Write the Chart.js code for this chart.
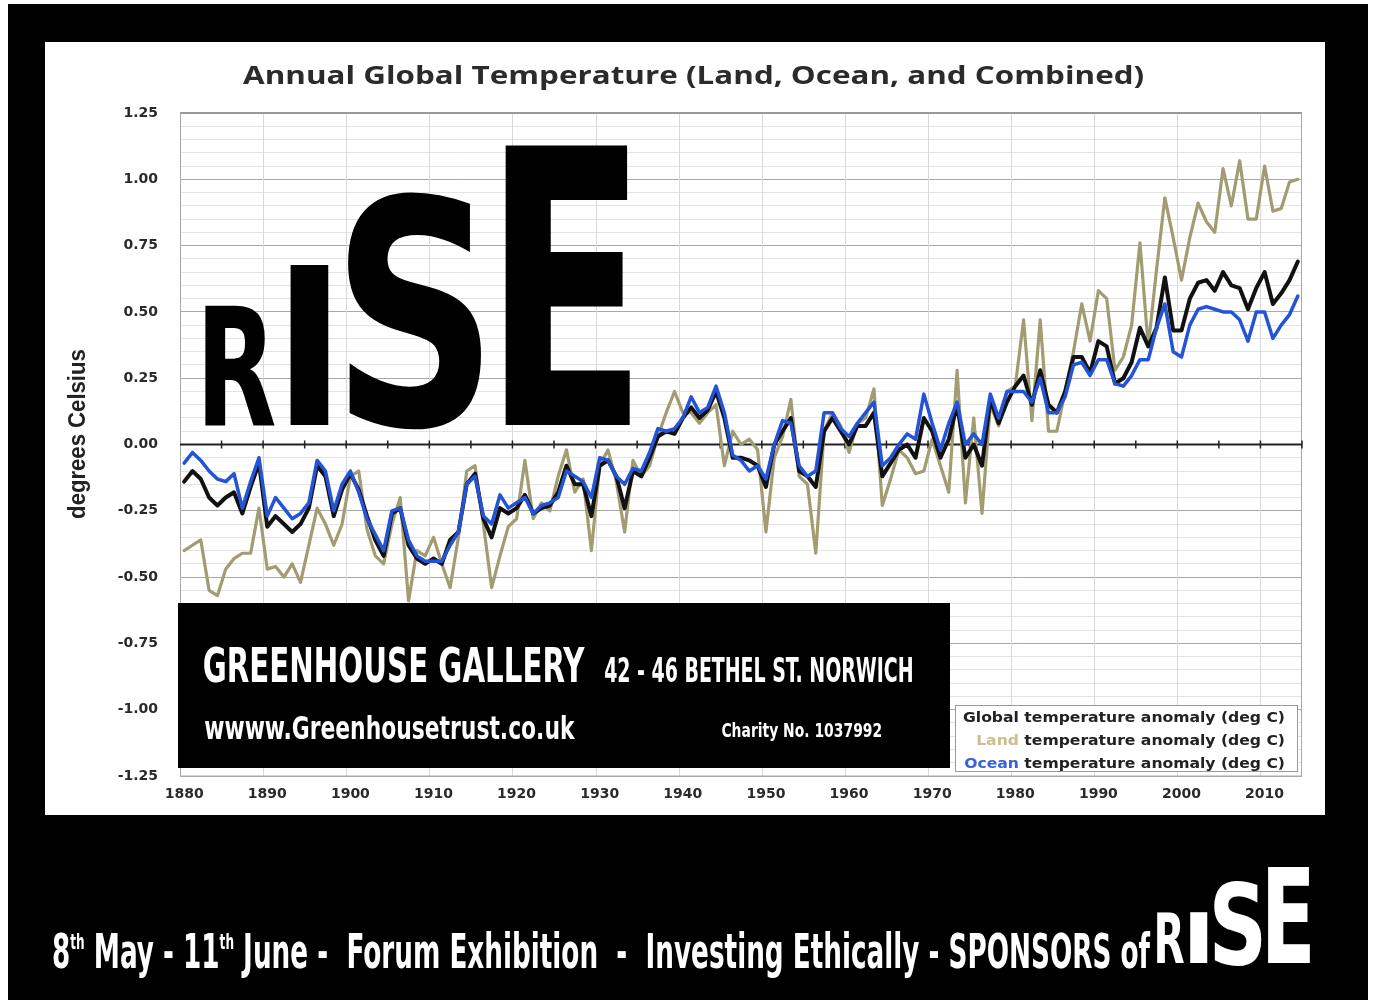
<!DOCTYPE html>
<html>
<head>
<meta charset="utf-8">
<title>Annual Global Temperature - RISE</title>
<script src="https://cdn.jsdelivr.net/npm/chart.js@4.4.1/dist/chart.umd.min.js"></script>
<style>
  html, body { margin: 0; padding: 0; background: #fff; }
  #wrap { position: relative; width: 1374px; height: 1006px; }
  canvas { display: block; }
</style>
</head>
<body>
<div id="wrap"><canvas id="chart" width="1374" height="1006"></canvas></div>
<script>
// annual anomalies, deg C, one value per year from FIRST_YEAR
const FIRST_YEAR = 1880;

const globalAnom = [
  -0.14, -0.10, -0.13, -0.20, -0.23, -0.20, -0.18, -0.26, -0.16, -0.07,
  -0.31, -0.27, -0.30, -0.33, -0.30, -0.24, -0.08, -0.12, -0.27, -0.17,
  -0.11, -0.17, -0.27, -0.36, -0.42, -0.26, -0.24, -0.38, -0.43, -0.45,
  -0.43, -0.45, -0.36, -0.33, -0.15, -0.11, -0.28, -0.35, -0.24, -0.26,
  -0.24, -0.19, -0.26, -0.24, -0.23, -0.18, -0.08, -0.15, -0.15, -0.27,
  -0.08, -0.06, -0.12, -0.24, -0.10, -0.12, -0.05, 0.03, 0.05, 0.04,
  0.10, 0.14, 0.10, 0.13, 0.20, 0.10, -0.05, -0.05, -0.06, -0.08,
  -0.16, 0.00, 0.05, 0.10, -0.10, -0.12, -0.16, 0.05, 0.10, 0.05,
  0.00, 0.07, 0.07, 0.12, -0.12, -0.07, -0.02, 0.00, -0.05, 0.10,
  0.05, -0.05, 0.02, 0.15, -0.05, 0.00, -0.08, 0.17, 0.08, 0.16,
  0.22, 0.26, 0.15, 0.28, 0.15, 0.12, 0.20, 0.33, 0.33, 0.27,
  0.39, 0.37, 0.23, 0.25, 0.31, 0.44, 0.37, 0.44, 0.63, 0.43,
  0.43, 0.55, 0.61, 0.62, 0.58, 0.65, 0.60, 0.59, 0.51, 0.59,
  0.65, 0.53, 0.57, 0.62, 0.69
];

const landAnom = [
  -0.40, -0.38, -0.36, -0.55, -0.57, -0.47, -0.43, -0.41, -0.41, -0.24,
  -0.47, -0.46, -0.50, -0.45, -0.52, -0.38, -0.24, -0.30, -0.38, -0.30,
  -0.12, -0.10, -0.32, -0.42, -0.45, -0.30, -0.20, -0.59, -0.40, -0.42,
  -0.35, -0.45, -0.54, -0.35, -0.10, -0.08, -0.30, -0.54, -0.42, -0.31,
  -0.28, -0.06, -0.28, -0.22, -0.25, -0.12, -0.02, -0.18, -0.13, -0.40,
  -0.08, -0.02, -0.14, -0.33, -0.06, -0.12, -0.08, 0.03, 0.12, 0.20,
  0.12, 0.12, 0.08, 0.12, 0.15, -0.08, 0.05, 0.00, 0.02, -0.02,
  -0.33, -0.05, 0.03, 0.17, -0.12, -0.15, -0.41, 0.05, 0.12, 0.07,
  -0.03, 0.08, 0.10, 0.21, -0.23, -0.13, -0.02, -0.05, -0.11, -0.10,
  0.02, -0.08, -0.18, 0.28, -0.22, 0.10, -0.26, 0.15, 0.07, 0.20,
  0.22, 0.47, 0.09, 0.47, 0.05, 0.05, 0.20, 0.35, 0.53, 0.39,
  0.58, 0.55, 0.28, 0.33, 0.45, 0.76, 0.37, 0.66, 0.93, 0.78,
  0.62, 0.78, 0.91, 0.84, 0.80, 1.04, 0.90, 1.07, 0.85, 0.85,
  1.05, 0.88, 0.89, 0.99, 1.00
];

const oceanAnom = [
  -0.07, -0.03, -0.06, -0.10, -0.13, -0.14, -0.11, -0.24, -0.14, -0.05,
  -0.27, -0.20, -0.24, -0.28, -0.26, -0.22, -0.06, -0.10, -0.25, -0.15,
  -0.10, -0.18, -0.28, -0.34, -0.40, -0.25, -0.24, -0.36, -0.42, -0.44,
  -0.44, -0.44, -0.38, -0.33, -0.15, -0.12, -0.27, -0.30, -0.19, -0.24,
  -0.22, -0.20, -0.26, -0.23, -0.22, -0.20, -0.10, -0.12, -0.14, -0.20,
  -0.05, -0.06, -0.12, -0.15, -0.09, -0.10, -0.03, 0.06, 0.05, 0.06,
  0.10, 0.18, 0.12, 0.14, 0.22, 0.12, -0.04, -0.06, -0.10, -0.08,
  -0.13, 0.00, 0.09, 0.08, -0.08, -0.12, -0.10, 0.12, 0.12, 0.06,
  0.03, 0.08, 0.12, 0.16, -0.08, -0.05, 0.00, 0.04, 0.02, 0.19,
  0.08, -0.02, 0.08, 0.16, 0.00, 0.04, 0.00, 0.19, 0.10, 0.20,
  0.20, 0.20, 0.16, 0.25, 0.12, 0.12, 0.18, 0.30, 0.31, 0.26,
  0.32, 0.32, 0.23, 0.22, 0.26, 0.32, 0.32, 0.44, 0.53, 0.35,
  0.33, 0.45, 0.51, 0.52, 0.51, 0.50, 0.50, 0.47, 0.39, 0.50,
  0.50, 0.40, 0.45, 0.49, 0.56
];

const xTickYears = [1880, 1890, 1900, 1910, 1920, 1930, 1940, 1950, 1960, 1970, 1980, 1990, 2000, 2010];
const yTickLabels = ["1.25", "1.00", "0.75", "0.50", "0.25", "0.00", "-0.25", "-0.50", "-0.75", "-1.00", "-1.25"];

const seriesLabels = [
  "Global temperature anomaly (deg C)",
  "Land temperature anomaly (deg C)",
  "Ocean temperature anomaly (deg C)"
];

const COL_GLOBAL = "#111111";
const COL_LAND = "#a19c72";
const COL_OCEAN = "#2453d6";

const HEAVY = "'DejaVu Sans Condensed', 'DejaVu Sans', sans-serif";

function toPoints(arr) {
  return arr.map((v, i) => ({ x: FIRST_YEAR + i, y: v }));
}

function fontStr(weight, px, family) {
  return weight + " " + px + "px " + family;
}

// fit a string's ink (or cap height) into a box, stretching as needed
function fitText(ctx, text, box, family, weight, color, mode) {
  ctx.save();
  ctx.font = fontStr(weight, 100, family);
  ctx.textAlign = "left";
  ctx.textBaseline = "alphabetic";
  const m = ctx.measureText(text);
  const inkW = m.actualBoundingBoxLeft + m.actualBoundingBoxRight;
  let asc, h;
  if (mode === "cap") {
    asc = ctx.measureText("H").actualBoundingBoxAscent;
    h = asc;
  } else {
    asc = m.actualBoundingBoxAscent;
    h = m.actualBoundingBoxAscent + m.actualBoundingBoxDescent;
  }
  const sx = box.w / inkW;
  const sy = box.h / h;
  ctx.translate(box.x + m.actualBoundingBoxLeft * sx, box.y + asc * sy);
  ctx.scale(sx, sy);
  ctx.fillStyle = color;
  ctx.fillText(text, 0, 0);
  ctx.restore();
}

// runs of text sharing one stretch; sup runs are raised and smaller
function drawRuns(ctx, runs, x, capTop, capH, width, family, weight, align) {
  ctx.save();
  ctx.textAlign = "left";
  ctx.textBaseline = "alphabetic";
  ctx.font = fontStr(weight, 100, family);
  const capAsc = ctx.measureText("H").actualBoundingBoxAscent;
  let total = 0;
  const widths = runs.map(r => {
    ctx.font = fontStr(weight, r.sup ? 46 : 100, family);
    const w = ctx.measureText(r.t).width;
    total += w;
    return w;
  });
  const sy = capH / capAsc;
  const sx = width ? width / total : sy;
  let cx = align === "right" ? x - total * sx : x;
  const base = capTop + capH;
  runs.forEach((r, i) => {
    ctx.save();
    ctx.font = fontStr(weight, r.sup ? 46 : 100, family);
    const by = r.sup ? capTop + capAsc * 0.46 * sy : base;
    ctx.translate(cx, by);
    ctx.scale(sx, sy);
    ctx.fillStyle = r.c;
    ctx.fillText(r.t, 0, 0);
    ctx.restore();
    cx += widths[i] * sx;
  });
  ctx.restore();
}

function textWidth(ctx, text, family, weight) {
  ctx.save();
  ctx.font = fontStr(weight, 100, family);
  const w = ctx.measureText(text).width;
  ctx.restore();
  return w;
}

const posterPlugin = {
  id: "poster",
  beforeDraw(chart) {
    const ctx = chart.ctx;
    ctx.save();
    ctx.fillStyle = "#ffffff";
    ctx.fillRect(0, 0, chart.width, chart.height);
    ctx.fillStyle = "#000000";
    ctx.fillRect(8, 4, 1360, 996);
    ctx.fillStyle = "#ffffff";
    ctx.fillRect(45, 42, 1280, 773);
    ctx.restore();
  },
  beforeDatasetsDraw(chart) {
    const ctx = chart.ctx;
    const a = chart.chartArea;
    const xs = chart.scales.x;
    const ys = chart.scales.y;
    ctx.save();
    // vertical grid between categories
    ctx.strokeStyle = "#d9d9d9";
    ctx.lineWidth = 1;
    xTickYears.forEach(d => {
      if (d === FIRST_YEAR) return;
      const px = Math.round(xs.getPixelForValue(d - 0.5)) + 0.5;
      ctx.beginPath();
      ctx.moveTo(px, a.top);
      ctx.lineTo(px, a.bottom);
      ctx.stroke();
    });
    // plot frame
    ctx.strokeStyle = "#8a8a8a";
    ctx.lineWidth = 2;
    ctx.beginPath();
    ctx.moveTo(a.left, a.top);
    ctx.lineTo(a.right, a.top);
    ctx.stroke();
    ctx.lineWidth = 1;
    ctx.strokeStyle = "#a8a8a8";
    ctx.strokeRect(a.left + 0.5, a.top, a.right - a.left - 1, a.bottom - a.top);
    // zero axis with tick marks every five years
    const y0 = ys.getPixelForValue(0);
    ctx.strokeStyle = "#222222";
    ctx.lineWidth = 2;
    ctx.beginPath();
    ctx.moveTo(a.left, y0);
    ctx.lineTo(a.right, y0);
    ctx.stroke();
    ctx.lineWidth = 1.5;
    xTickYears.forEach(d => {
      [d - 0.5, d + 4.5].forEach(t => {
        if (t <= FIRST_YEAR) return;
        const px = xs.getPixelForValue(t);
        if (px > a.right) return;
        ctx.beginPath();
        ctx.moveTo(px, y0 - 4);
        ctx.lineTo(px, y0 + 4);
        ctx.stroke();
      });
    });
    ctx.restore();
  },
  afterDraw(chart) {
    const ctx = chart.ctx;

    // chart title and y axis title
    fitText(ctx, "Annual Global Temperature (Land, Ocean, and Combined)",
      { x: 243, y: 66, w: 900, h: 18 }, "'Open Sans', sans-serif", "bold", "#2b2b2b", "cap");
    ctx.save();
    ctx.translate(79, 434);
    ctx.rotate(-Math.PI / 2);
    fitText(ctx, "degrees Celsius", { x: -84, y: -11, w: 168, h: 22 },
      "'Liberation Sans Narrow', 'Liberation Sans', sans-serif", "bold", "#222222", "ink");
    ctx.restore();

    // RISE logo
    fitText(ctx, "R", { x: 205, y: 305, w: 70, h: 120 }, HEAVY, "bold", "#000", "ink");
    fitText(ctx, "I", { x: 290, y: 265, w: 40, h: 160 }, HEAVY, "bold", "#000", "ink");
    fitText(ctx, "S", { x: 347, y: 190, w: 136, h: 238 }, HEAVY, "bold", "#000", "ink");
    fitText(ctx, "E", { x: 505, y: 145, w: 125, h: 280 }, HEAVY, "bold", "#000", "ink");

    // gallery panel
    ctx.save();
    ctx.fillStyle = "#000";
    ctx.fillRect(178, 603, 772, 165);
    ctx.restore();
    fitText(ctx, "GREENHOUSE GALLERY", { x: 204, y: 647, w: 381, h: 35 }, HEAVY, "bold", "#fff", "cap");
    fitText(ctx, "42 - 46 BETHEL ST. NORWICH", { x: 605, y: 658, w: 307, h: 24 }, HEAVY, "bold", "#fff", "cap");
    fitText(ctx, "wwww.Greenhousetrust.co.uk", { x: 205, y: 714, w: 370, h: 25 }, HEAVY, "bold", "#fff", "ink");
    fitText(ctx, "Charity No. 1037992", { x: 722, y: 723, w: 159, h: 14 }, HEAVY, "bold", "#fff", "cap");

    // legend
    ctx.save();
    ctx.fillStyle = "#fff";
    ctx.fillRect(955, 705, 343, 67);
    ctx.strokeStyle = "#9a9a9a";
    ctx.lineWidth = 1;
    ctx.strokeRect(955.5, 705.5, 342, 66);
    ctx.restore();
    const legFam = "'DejaVu Sans', sans-serif";
    const legW = "600";
    const rest = " temperature anomaly (deg C)";
    const base0 = textWidth(ctx, seriesLabels[0], legFam, legW);
    drawRuns(ctx, [{ t: seriesLabels[0], c: "#222" }], 1285, 712, 10, 322, legFam, legW, "right");
    drawRuns(ctx, [{ t: "Land", c: "#cbbd8c" }, { t: rest, c: "#222" }], 1285, 735, 10,
      322 * textWidth(ctx, seriesLabels[1], legFam, legW) / base0, legFam, legW, "right");
    drawRuns(ctx, [{ t: "Ocean", c: "#3a62d8" }, { t: rest, c: "#222" }], 1285, 758, 10,
      322 * textWidth(ctx, seriesLabels[2], legFam, legW) / base0, legFam, legW, "right");

    // bottom strap line
    drawRuns(ctx, [
      { t: "8", c: "#fff" },
      { t: "th", c: "#fff", sup: true },
      { t: " May - 11", c: "#fff" },
      { t: "th", c: "#fff", sup: true },
      { t: " June -  Forum Exhibition  -  Investing Ethically - SPONSORS of", c: "#fff" }
    ], 52, 933, 35, 1098, HEAVY, "bold", "left");
    fitText(ctx, "R", { x: 1157, y: 912, w: 27, h: 51 }, HEAVY, "bold", "#fff", "ink");
    fitText(ctx, "I", { x: 1190, y: 912, w: 18, h: 51 }, HEAVY, "bold", "#fff", "ink");
    fitText(ctx, "S", { x: 1214, y: 880, w: 48, h: 85 }, HEAVY, "bold", "#fff", "ink");
    fitText(ctx, "E", { x: 1268, y: 867, w: 42, h: 96 }, HEAVY, "bold", "#fff", "ink");
  }
};

const tickFont = { family: "'DejaVu Sans'", weight: "bold", size: 14 };

new Chart(document.getElementById("chart"), {
  type: "line",
  data: {
    datasets: [
      { label: seriesLabels[2], data: toPoints(oceanAnom), borderColor: COL_OCEAN, borderWidth: 3.5 },
      { label: seriesLabels[0], data: toPoints(globalAnom), borderColor: COL_GLOBAL, borderWidth: 4 },
      { label: seriesLabels[1], data: toPoints(landAnom), borderColor: COL_LAND, borderWidth: 3.2 }
    ]
  },
  options: {
    responsive: false,
    animation: false,
    layout: { padding: { top: 113, right: 72, bottom: 0, left: 0 } },
    elements: {
      point: { radius: 0 },
      line: { tension: 0, fill: false, borderJoinStyle: "round", borderCapStyle: "round" }
    },
    plugins: {
      legend: { display: false },
      title: { display: false },
      tooltip: { enabled: false }
    },
    scales: {
      x: {
        type: "linear",
        min: FIRST_YEAR - 0.5,
        max: 2014.5,
        afterBuildTicks: s => { s.ticks = xTickYears.map(v => ({ value: v })); },
        afterFit: s => { s.height = 230; },
        grid: { display: false, drawTicks: false },
        border: { display: false },
        ticks: {
          autoSkip: false,
          maxRotation: 0,
          padding: 10,
          color: "#2a2a2a",
          font: tickFont,
          callback: v => String(v)
        }
      },
      y: {
        type: "linear",
        min: -1.25,
        max: 1.25,
        afterBuildTicks: s => {
          const t = [];
          for (let i = -25; i <= 25; i++) t.push({ value: i / 20 });
          s.ticks = t;
        },
        afterFit: s => { s.width = 180; },
        grid: {
          drawTicks: false,
          color: c => {
            const r = Math.round(c.tick.value * 100);
            if (r === 0) return "rgba(0,0,0,0)";
            return r % 25 === 0 ? "#a9a9a9" : "#e3e3e3";
          },
          lineWidth: 1
        },
        border: { display: false },
        ticks: {
          autoSkip: false,
          padding: 22,
          color: "#2a2a2a",
          font: tickFont,
          callback: v => {
            const s = (Math.abs(v) < 1e-9 ? 0 : v).toFixed(2);
            return yTickLabels.includes(s) ? s : "";
          }
        }
      }
    }
  },
  plugins: [posterPlugin]
});
</script>
</body>
</html>
